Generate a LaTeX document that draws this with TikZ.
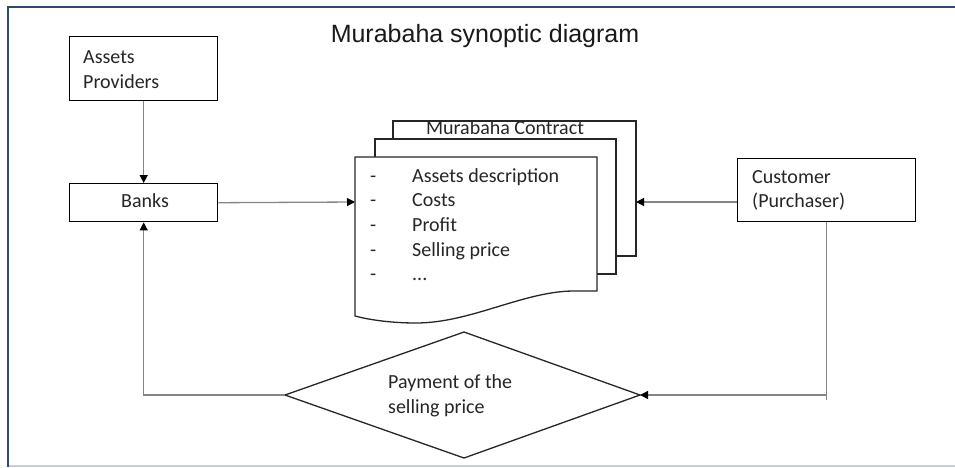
\documentclass[tikz,border=0pt]{standalone}
\usepackage{fontspec}
\setmainfont{Carlito}
\newfontfamily\titlefont{Liberation Sans}
\usetikzlibrary{arrows.meta}
\definecolor{frameblue}{HTML}{2E4A6E}
\definecolor{framelight}{HTML}{C5D0DC}
\definecolor{conn}{HTML}{858585}
\tikzset{
  box/.style={draw=black, line width=1.4pt, fill=white, inner sep=0pt, anchor=north west},
  txt/.style={anchor=base west, inner sep=0pt, font=\fontsize{20}{24}\selectfont, text=black!85},
  sheet/.style={draw=black!85, line width=1.3pt},
  conn/.style={draw=conn, line width=1.3pt, -{Triangle[length=8pt,width=8pt,color=black]}},
  connplain/.style={draw=conn, line width=1.3pt}
}
\begin{document}
\begin{tikzpicture}[x=1pt,y=-1pt]
\useasboundingbox (0,0) rectangle (955,467);
% frame
\draw[frameblue, line width=2pt] (7,7) -- (955,7);
\draw[frameblue, line width=2.6pt] (8,6) -- (8,467);
\draw[framelight, line width=1.2pt] (9,466) -- (955,466);

% title
\node[anchor=base, inner sep=0pt, font=\titlefont\fontsize{25}{30}\selectfont, text=black!90] (title) at (485,42) {Murabaha synoptic diagram};

% boxes
\node[box, minimum width=148pt, minimum height=64pt] (ap) at (69,36) {};
\node[txt] (aptxt1) at (83,63) {Assets};
\node[txt] (aptxt2) at (83,88) {Providers};

\node[box, minimum width=148pt, minimum height=38pt] (banks) at (69,183) {};
\node[txt, anchor=base] (bankstxt) at (145,207) {Banks};

\node[box, minimum width=178pt, minimum height=63pt] (cust) at (737,158) {};
\node[txt] (custtxt1) at (752,183) {Customer};
\node[txt] (custtxt2) at (752,207) {(Purchaser)};

% document stack
\draw[sheet] (393,139) -- (393,121) -- (636,121) -- (636,256) -- (616,256);
\draw[sheet] (375,157) -- (375,139) -- (616,139) -- (616,274) -- (597,274);
\draw[sheet, fill=white] (355,157) -- (597,157) -- (597,291) -- (572,291)
  .. controls (522,292) and (470,323) .. (416,323)
  .. controls (388,323) and (366,319) .. (355,316) -- cycle;
\coordinate (docL) at (355,202);
\coordinate (docR) at (636,202);
\node[txt, anchor=base] (doctitle) at (505,134) {Murabaha Contract};
\node[txt] (d1) at (370,182) {-};
\node[txt] (i1) at (412,182) {Assets description};
\node[txt] (d2) at (370,206) {-};
\node[txt] (i2) at (412,206) {Costs};
\node[txt] (d3) at (370,231) {-};
\node[txt] (i3) at (412,231) {Profit};
\node[txt] (d4) at (370,256) {-};
\node[txt] (i4) at (412,256) {Selling price};
\node[txt] (d5) at (370,280) {-};
\node[txt] (i5) at (412,280) {...};

% diamond
\coordinate (dT) at (464,332);
\coordinate (dR) at (640,395);
\coordinate (dB) at (464,458);
\coordinate (dL) at (285,395);
\draw[black!85, line width=1.3pt, fill=white] (dL) -- (dT) -- (dR) -- (dB) -- cycle;
\node[txt] (p1) at (388,388) {Payment of the};
\node[txt] (p2) at (388,413) {selling price};

% connectors
\draw[conn] (ap.south) -- (banks.north);
\draw[conn] (banks.east) -- (docL);
\draw[conn] (docR -| cust.west) -- (docR);
\draw[connplain] (cust.south) -- ++(0,178);
\draw[conn] (cust.south) |- (dR);
\draw[conn] (dL) -| (banks.south);
\end{tikzpicture}
\end{document}
